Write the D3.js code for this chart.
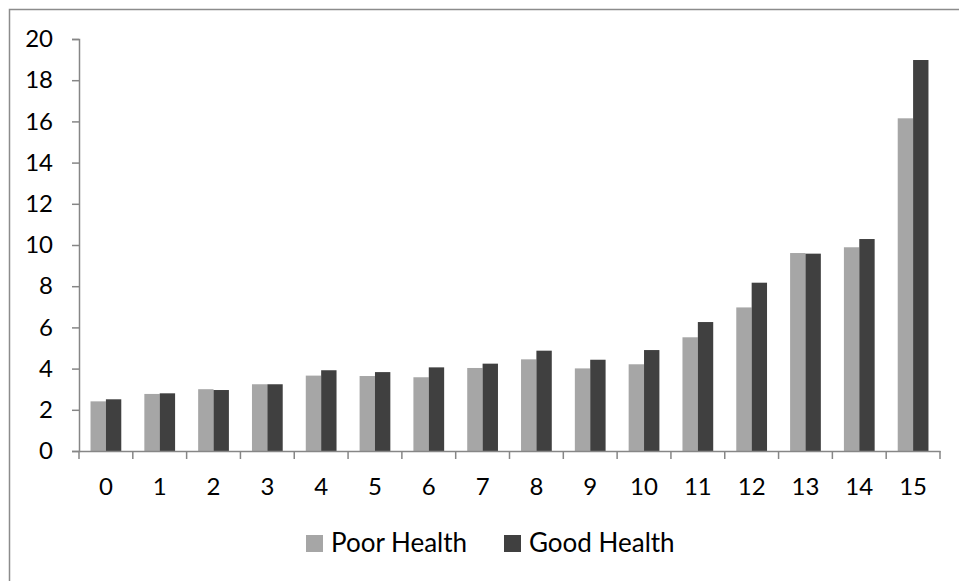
<!DOCTYPE html>
<html>
<head>
<meta charset="utf-8">
<script src="https://cdn.jsdelivr.net/npm/d3@7"></script>
<style>
  html, body { margin: 0; padding: 0; background: #ffffff; }
  svg { display: block; }
  text { font-family: Lato, "Open Sans", sans-serif; fill: #000; }
</style>
</head>
<body>
<script>
// Category labels along the x axis
const categories = ["0","1","2","3","4","5","6","7","8","9","10","11","12","13","14","15"];
// Series values
const poorHealth = [2.41, 2.77, 3.00, 3.24, 3.66, 3.64, 3.58, 4.03, 4.45, 4.01, 4.21, 5.52, 6.97, 9.61, 9.89, 16.15];
const goodHealth = [2.51, 2.80, 2.96, 3.24, 3.92, 3.83, 4.06, 4.24, 4.87, 4.43, 4.90, 6.26, 8.17, 9.58, 10.29, 18.98];
const seriesNames = ["Poor Health", "Good Health"];
const seriesColors = ["#a6a6a6", "#404040"];
// Y axis tick values
const yTicks = [0, 2, 4, 6, 8, 10, 12, 14, 16, 18, 20];

const W = 959, H = 581;
const svg = d3.select("body").append("svg").attr("width", W).attr("height", H);

// Chart area frame
svg.append("rect")
  .attr("x", 9.5).attr("y", 9.5)
  .attr("width", W + 20).attr("height", H + 20)
  .attr("fill", "none").attr("stroke", "#8c8c8c").attr("stroke-width", 1.5);

const plotLeft = 79, plotRight = 940, plotTop = 39, plotBottom = 451;

const y = d3.scaleLinear().domain([0, 20]).range([plotBottom, plotTop]);
const x = d3.scaleBand().domain(categories).range([plotLeft, plotRight]).padding(0);
const xs = d3.scaleBand().domain(seriesNames).range([0, x.bandwidth()])
  .paddingInner(0).paddingOuter(0.75);

const rows = categories.map((c, i) => ({ cat: c, values: [poorHealth[i], goodHealth[i]] }));

// Bars
const groups = svg.append("g").selectAll("g").data(rows).join("g")
  .attr("transform", d => `translate(${x(d.cat)},0)`);
groups.selectAll("rect")
  .data(d => d.values.map((v, k) => ({ name: seriesNames[k], value: v, k })))
  .join("rect")
  .attr("x", d => xs(d.name))
  .attr("y", d => y(d.value))
  .attr("width", xs.bandwidth())
  .attr("height", d => y(0) - y(d.value))
  .attr("fill", d => seriesColors[d.k]);

// Y axis
const yAxis = svg.append("g")
  .attr("transform", `translate(${plotLeft},0)`)
  .call(d3.axisLeft(y).tickValues(yTicks).tickSize(7).tickPadding(19).tickFormat(d3.format("d")));
yAxis.select(".domain").attr("stroke", "#868686").attr("stroke-width", 1.5);
yAxis.selectAll(".tick line").attr("stroke", "#868686").attr("stroke-width", 1.5);
yAxis.selectAll("text").style("font-size", "24px").attr("fill", "#000");

// X axis
const xAxis = svg.append("g")
  .attr("transform", `translate(0,${plotBottom})`)
  .call(d3.axisBottom(x).tickSize(0).tickPadding(27));
xAxis.select(".domain").attr("stroke", "#868686").attr("stroke-width", 1.5);
xAxis.selectAll("text").style("font-size", "24px").attr("fill", "#000");
// Tick marks on the band boundaries
const boundaries = d3.range(categories.length + 1).map(i => plotLeft + i * x.step());
xAxis.selectAll(".bound").data(boundaries).join("line")
  .attr("class", "bound")
  .attr("x1", d => d).attr("x2", d => d)
  .attr("y1", 0).attr("y2", 8)
  .attr("stroke", "#868686").attr("stroke-width", 1.5);

// Legend
const legendItems = [
  { name: seriesNames[0], color: seriesColors[0], sx: 306 },
  { name: seriesNames[1], color: seriesColors[1], sx: 504 }
];
const legend = svg.append("g").selectAll("g").data(legendItems).join("g")
  .attr("transform", d => `translate(${d.sx},535)`);
legend.append("rect").attr("width", 17).attr("height", 17).attr("fill", d => d.color);
legend.append("text")
  .attr("x", 25).attr("y", 17)
  .style("font-size", "26px")
  .text(d => d.name);
</script>
</body>
</html>
